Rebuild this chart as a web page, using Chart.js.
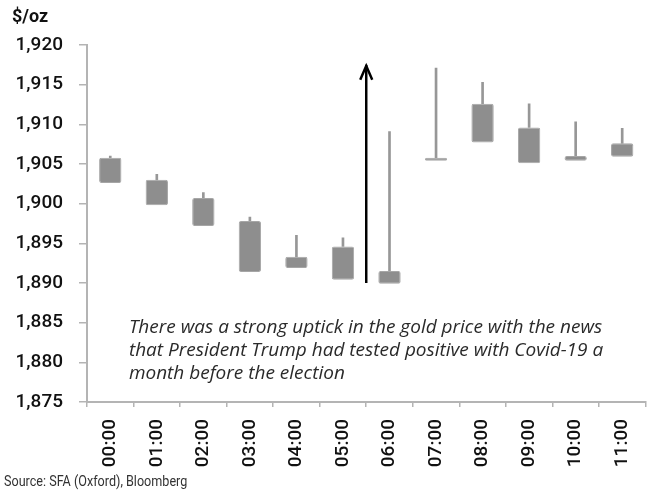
<!DOCTYPE html>
<html lang="en">
<head>
    <meta charset="UTF-8">
    <title>Gold price, hourly</title>
    <script src="https://cdn.jsdelivr.net/npm/chart.js"></script>
    <style>
        html, body { margin: 0; padding: 0; background: #fff; overflow: hidden; }
    </style>
</head>
<body>
    <canvas id="goldChart" width="657" height="492"></canvas>

    <script>
        // hourly candles, $/oz
        const hours = ['00:00', '01:00', '02:00', '03:00', '04:00', '05:00',
                       '06:00', '07:00', '08:00', '09:00', '10:00', '11:00'];
        const boxLow  = [1902.6, 1899.8, 1897.2, 1891.4, 1891.9, 1890.4, 1889.9, 1905.4, 1907.7, 1905.1, 1905.4, 1905.9];
        const boxHigh = [1905.8, 1903.0, 1900.7, 1897.8, 1893.3, 1894.6, 1891.5, 1905.8, 1912.6, 1909.6, 1906.0, 1907.6];
        const highs   = [1906.0, 1903.7, 1901.4, 1898.3, 1896.0, 1895.7, 1909.1, 1917.1, 1915.3, 1912.6, 1910.3, 1909.5];

        const yTicks = [1875, 1880, 1885, 1890, 1895, 1900, 1905, 1910, 1915, 1920];

        // arrow between 05:00 and 06:00
        const arrowFrom = 1890.0;
        const arrowTo = 1917.5;

        const note = [
            'There was a strong uptick in the gold price with the news',
            'that President Trump had tested positive with Covid-19 a',
            'month before the election'
        ];

        const axisGrey = '#b4b4b4';
        const tickFont = { family: 'Roboto', size: 19, weight: '500' };

        const extras = {
            id: 'extras',
            afterDatasetsDraw(chart) {
                const ctx = chart.ctx;
                const x = chart.scales.x, y = chart.scales.y;

                // arrow
                const ax = (x.getPixelForValue(5) + x.getPixelForValue(6)) / 2;
                const y0 = y.getPixelForValue(arrowFrom), y1 = y.getPixelForValue(arrowTo);
                ctx.save();
                ctx.strokeStyle = '#000';
                ctx.lineWidth = 2.5;
                ctx.beginPath();
                ctx.moveTo(ax, y0);
                ctx.lineTo(ax, y1);
                ctx.stroke();
                ctx.beginPath();
                ctx.moveTo(ax - 6, y1 + 15);
                ctx.lineTo(ax, y1 + 1);
                ctx.lineTo(ax + 6, y1 + 15);
                ctx.stroke();

                // note text
                ctx.fillStyle = '#2a2a2a';
                ctx.font = "italic 19px 'Open Sans'";
                ctx.textBaseline = 'middle';
                ctx.textAlign = 'left';
                const nx = x.getPixelForValue(0.4);
                const ny = y.getPixelForValue(1884.4);
                note.forEach((line, i) => ctx.fillText(line, nx, ny + i * 23));

                // unit label
                ctx.fillStyle = '#111';
                ctx.font = '700 18px Roboto';
                ctx.fillText('$/oz', 12, 17);

                // source, squeezed to a narrow face
                ctx.fillStyle = '#333';
                ctx.font = '15px Roboto';
                ctx.translate(4, 482);
                ctx.scale(0.84, 1);
                ctx.fillText('Source: SFA (Oxford), Bloomberg', 0, 0);
                ctx.restore();
            }
        };

        new Chart(document.getElementById('goldChart'), {
            type: 'bar',
            data: {
                labels: hours,
                datasets: [
                    {
                        label: 'Open/close',
                        data: hours.map((h, i) => [boxLow[i], boxHigh[i]]),
                        backgroundColor: '#8e8e8e',
                        borderColor: '#a6a6a6',
                        borderWidth: 1,
                        borderSkipped: false,
                        borderRadius: 2,
                        categoryPercentage: 1,
                        barPercentage: 0.48,
                        grouped: false,
                        order: 1
                    },
                    {
                        label: 'High',
                        data: hours.map((h, i) => [boxHigh[i], highs[i]]),
                        backgroundColor: '#979797',
                        barThickness: 2,
                        grouped: false,
                        order: 2
                    }
                ]
            },
            options: {
                responsive: false,
                animation: false,
                devicePixelRatio: 1,
                layout: { padding: { top: 45, left: 0, right: 0, bottom: 0 } },
                plugins: {
                    legend: { display: false },
                    tooltip: { enabled: false }
                },
                scales: {
                    x: {
                        afterFit: s => { s.height = 90; },
                        border: { color: axisGrey, width: 2 },
                        grid: { drawOnChartArea: false, color: axisGrey, lineWidth: 1.5, tickLength: 5, offset: true },
                        ticks: {
                            color: '#111',
                            font: tickFont,
                            minRotation: 90,
                            maxRotation: 90,
                            padding: 12
                        }
                    },
                    y: {
                        min: yTicks[0],
                        max: yTicks[yTicks.length - 1],
                        afterFit: s => { s.width = 87; },
                        afterBuildTicks: s => { s.ticks = yTicks.map(v => ({ value: v })); },
                        border: { color: axisGrey, width: 2 },
                        grid: { drawOnChartArea: false, color: axisGrey, lineWidth: 1.5, tickLength: 8 },
                        ticks: {
                            color: '#111',
                            font: tickFont,
                            padding: 16,
                            callback: v => v.toLocaleString('en-US')
                        }
                    }
                }
            },
            plugins: [extras]
        });
    </script>
</body>
</html>
